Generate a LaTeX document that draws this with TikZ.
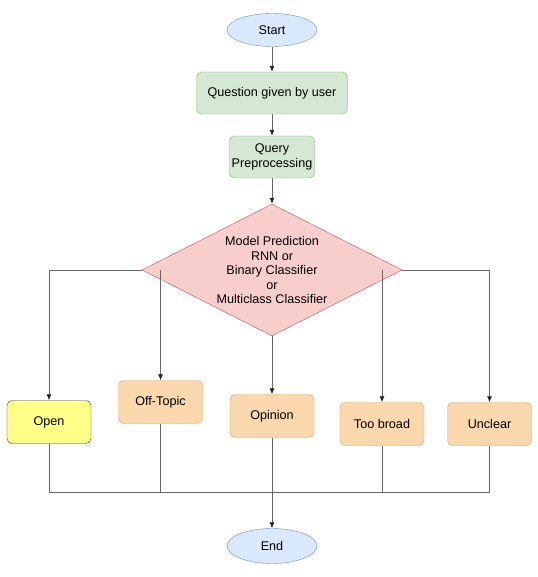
\documentclass[tikz,border=0pt]{standalone}
\usepackage{fontspec}
\setmainfont{Liberation Sans}
\usetikzlibrary{shapes.geometric,arrows.meta}
\definecolor{bluef}{HTML}{DAE8FC}\definecolor{blues}{HTML}{6C8EBF}
\definecolor{greenf}{HTML}{D5E8D4}\definecolor{greens}{HTML}{82B366}
\definecolor{redf}{HTML}{F8CECC}\definecolor{reds}{HTML}{B85450}
\definecolor{orf}{HTML}{FAD7AC}\definecolor{ors}{HTML}{DDA060}
\definecolor{yelf}{HTML}{FFFF88}\definecolor{yels}{HTML}{36393D}
\definecolor{linec}{HTML}{666666}
\definecolor{tipc}{HTML}{222222}
\tikzset{
  every node/.style={font=\fontsize{12.6}{14.5}\selectfont, inner sep=0pt, align=center},
  term/.style={ellipse, draw=blues, fill=bluef, minimum width=90pt, minimum height=33pt},
  gbox/.style={rounded corners=5pt, draw=greens, fill=greenf, minimum height=42pt},
  obox/.style={rounded corners=5pt, draw=ors, fill=orf, minimum width=84pt, minimum height=43pt},
  ybox/.style={rounded corners=5pt, draw=yels, fill=yelf, minimum width=84pt, minimum height=43pt},
  dec/.style={diamond, draw=reds, fill=redf, minimum width=260pt, minimum height=132pt, aspect=1.97},
  conn/.style={draw=linec, line width=0.8pt},
  arr/.style={conn, -{Latex[length=6pt,width=5pt,color=tipc]}},
}
\begin{document}
\begin{tikzpicture}[x=1pt,y=-1pt]
\useasboundingbox (0,0) rectangle (537,577);
\node[term] (start) at (272,30) {Start};
\node[gbox, minimum width=151pt] (q) at (272,93) {Question given by user};
\node[gbox, minimum width=85pt] (pre) at (272,157) {Query\\Preprocessing};
\node[dec] (dia) at (272,270) {};
\node (diatext) at (272,270) {Model Prediction\\RNN or\\Binary Classifier\\or\\Multiclass Classifier};
\node[ybox] (open) at (49,422) {Open};
\node[obox] (off) at (160.5,402) {Off-Topic};
\node[obox] (opi) at (272,416) {Opinion};
\node[obox] (too) at (382,424) {Too broad};
\node[obox] (unc) at (489.5,424) {Unclear};
\node[term, minimum height=35pt] (end) at (272,546) {End};
\coordinate (busl) at (49,492);
\coordinate (busr) at (489.5,492);
\coordinate (busm) at (272,492);
\coordinate (offtap) at (off.north |- dia.west);
\coordinate (tootap) at (too.north |- dia.east);

\draw[arr] (start) -- (q);
\draw[arr] (q) -- (pre);
\draw[arr] (pre) -- (dia.north);
\draw[arr] (dia.west) -| (open.north);
\draw[arr] (offtap) -- (off.north);
\draw[arr] (dia.south) -- (opi.north);
\draw[arr] (tootap) -- (too.north);
\draw[arr] (dia.east) -| (unc.north);
\draw[conn] (open.south) -- (busl) -- (busr) -- (unc.south);
\draw[conn] (off.south) -- (off.south |- busm);
\draw[conn] (too.south) -- (too.south |- busm);
\draw[arr] (opi.south) -- (end.north);
\end{tikzpicture}
\end{document}
